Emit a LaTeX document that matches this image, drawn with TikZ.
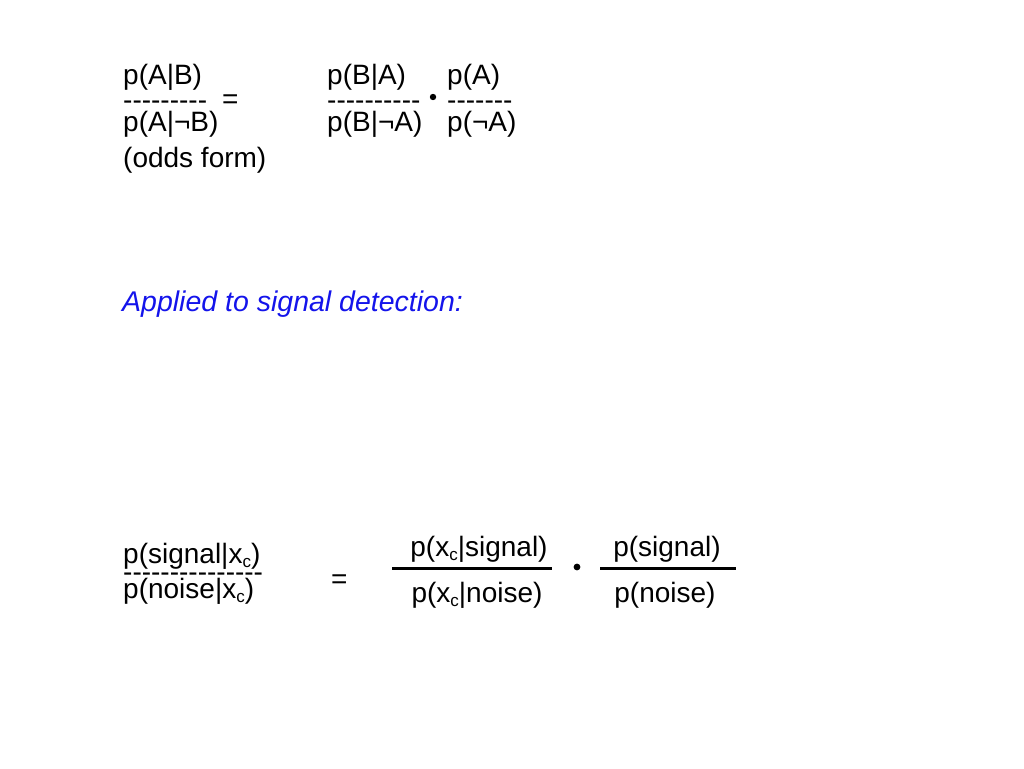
\documentclass[tikz,border=0pt]{standalone}
\usepackage{fontspec}
\setmainfont{Liberation Sans}[Ligatures=TeXOff]
\definecolor{headblue}{RGB}{20,20,235}
\newcommand\subc{\raisebox{-4.5pt}{\fontsize{17pt}{17pt}\selectfont c}}
\begin{document}
\begin{tikzpicture}[x=1pt,y=-1pt,
  txt/.style={anchor=base west,inner sep=0pt,font=\fontsize{28pt}{32pt}\selectfont},
  dashrow/.style={txt,text height=10pt,text depth=0pt},
  bar/.style={line width=3pt},
  dotmark/.style={fill=black,draw=none}]
\useasboundingbox (0,0) rectangle (1024,768);
% top: odds form
\node[txt] (n1) at (123,84) {p(A|B)};
\node[dashrow] (d1) at (123,109) {---------};
\node[txt] (m1) at (123,131) {p(A|¬B)};
\node[txt] (of) at (123,167) {(odds form)};
\node[txt] (eq1) at (222,108) {=};
\node[txt] (n2) at (327,84) {p(B|A)};
\node[dashrow] (d2) at (327,109) {----------};
\node[txt] (m2) at (327,131) {p(B|¬A)};
\fill[dotmark] (433,97) circle (3.2);
\node[txt] (n3) at (447,84) {p(A)};
\node[dashrow] (d3) at (447,109) {-------};
\node[txt] (m3) at (447,131) {p(¬A)};
% heading
\node[txt,font=\fontsize{28.5pt}{32pt}\selectfont\itshape,text=headblue] (head) at (122,311) {Applied to signal detection:};
% bottom
\node[txt] (sn) at (123,563) {p(signal|x\subc)};
\node[dashrow] (sd) at (123,581) {---------------};
\node[txt] (sm) at (123,598) {p(noise|x\subc)};
\node[txt] (eq2) at (331,588) {=};
\node[txt,anchor=base] (fn1) at (479,556) {p(x\subc|signal)};
\coordinate (b1l) at (392,568);
\coordinate (b1r) at (552,568);
\draw[bar] (b1l) -- (b1r);
\node[txt,anchor=base] (fd1) at (477,602) {p(x\subc|noise)};
\fill[dotmark] (577,567) circle (3.4);
\node[txt,anchor=base] (fn2) at (667,556) {p(signal)};
\coordinate (b2l) at (600,568);
\coordinate (b2r) at (736,568);
\draw[bar] (b2l) -- (b2r);
\node[txt,anchor=base] (fd2) at (665,602) {p(noise)};
\end{tikzpicture}
\end{document}
